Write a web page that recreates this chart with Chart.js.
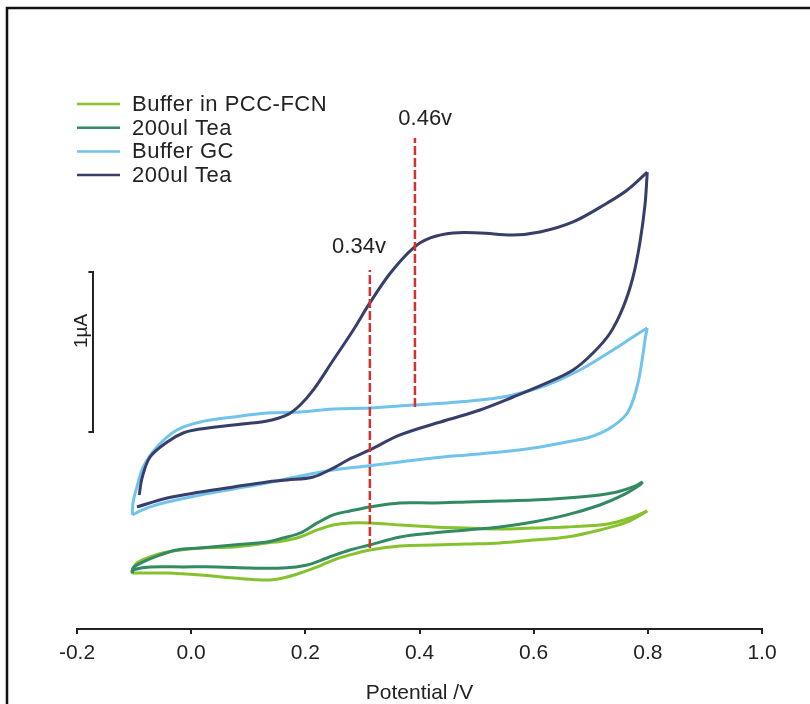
<!DOCTYPE html>
<html>
<head>
<meta charset="utf-8">
<script src="https://cdn.jsdelivr.net/npm/chart.js@4.4.0/dist/chart.umd.min.js"></script>
<style>body{margin:0;background:#fff}</style>
</head>
<body>
<canvas id="cv" width="810" height="704"></canvas>
<script>
// potential in V, current in uA (relative, no y axis shown)

// Buffer in PCC-FCN
const pccBufUpV = [-0.105,-0.095,-0.072,-0.042,0.016,0.074,0.133,0.161,0.191,0.221,0.249,0.278,0.313,0.366,0.424,0.483,0.541,0.599,0.658,0.716,0.746,0.774,0.799];
const pccBufUpI = [0.356,0.413,0.45,0.481,0.506,0.513,0.538,0.55,0.575,0.619,0.65,0.663,0.663,0.65,0.638,0.631,0.625,0.631,0.638,0.65,0.669,0.7,0.738];
const pccBufDnV = [0.799,0.764,0.716,0.658,0.599,0.541,0.483,0.424,0.366,0.313,0.278,0.249,0.221,0.191,0.161,0.133,0.074,0.016,-0.042,-0.102,-0.105];
const pccBufDnI = [0.738,0.669,0.619,0.575,0.556,0.538,0.531,0.525,0.519,0.494,0.463,0.431,0.388,0.35,0.319,0.306,0.319,0.338,0.35,0.35,0.356];

// 200ul Tea (PCC-FCN)
const pccTeaUpV = [-0.103,-0.102,-0.084,-0.054,-0.025,0.016,0.074,0.133,0.161,0.191,0.221,0.249,0.278,0.313,0.366,0.424,0.483,0.541,0.599,0.658,0.716,0.746,0.774,0.791];
const pccTeaUpI = [0.35,0.381,0.419,0.463,0.494,0.506,0.525,0.544,0.569,0.6,0.663,0.713,0.738,0.763,0.788,0.788,0.794,0.8,0.806,0.819,0.838,0.856,0.888,0.919];
const pccTeaDnV = [0.791,0.786,0.757,0.716,0.658,0.599,0.541,0.483,0.424,0.366,0.313,0.278,0.238,0.203,0.161,0.103,0.046,-0.014,-0.072,-0.102,-0.103];
const pccTeaDnI = [0.919,0.9,0.838,0.775,0.713,0.669,0.638,0.619,0.6,0.575,0.525,0.494,0.444,0.4,0.381,0.381,0.388,0.388,0.388,0.369,0.35];

// Buffer GC
const gcBufUpV = [-0.103,-0.102,-0.095,-0.084,-0.06,-0.025,0.016,0.074,0.133,0.191,0.249,0.313,0.389,0.448,0.506,0.564,0.623,0.681,0.739,0.774,0.799];
const gcBufUpI = [0.713,0.788,0.888,1.013,1.138,1.244,1.294,1.325,1.35,1.356,1.375,1.381,1.4,1.413,1.431,1.463,1.525,1.619,1.744,1.825,1.881];
const gcBufDnV = [0.799,0.795,0.79,0.781,0.764,0.734,0.699,0.658,0.599,0.541,0.483,0.424,0.366,0.308,0.249,0.191,0.133,0.074,0.016,-0.042,-0.072,-0.089,-0.103];
const gcBufDnI = [1.881,1.806,1.681,1.513,1.35,1.256,1.2,1.169,1.131,1.106,1.088,1.069,1.044,1.019,0.994,0.956,0.913,0.875,0.838,0.794,0.763,0.738,0.713];

// 200ul Tea (GC)
const gcTeaFwdV = [-0.095,-0.042,0.016,0.074,0.133,0.168,0.214,0.249,0.278,0.313,0.366,0.448,0.506,0.564,0.623,0.669,0.704,0.734,0.757,0.774,0.786,0.795,0.799];
const gcTeaFwdI = [0.763,0.819,0.856,0.888,0.919,0.931,0.95,1.006,1.063,1.119,1.213,1.306,1.369,1.45,1.538,1.619,1.725,1.85,2.013,2.2,2.413,2.65,2.856];
const gcTeaRevV = [0.799,0.764,0.729,0.669,0.611,0.564,0.506,0.459,0.419,0.389,0.349,0.313,0.284,0.249,0.214,0.191,0.168,0.133,0.074,0.016,-0.014,-0.042,-0.072,-0.086,-0.091];
const gcTeaRevI = [2.856,2.744,2.663,2.544,2.481,2.463,2.475,2.475,2.444,2.381,2.225,2.038,1.869,1.681,1.494,1.4,1.338,1.3,1.275,1.25,1.225,1.169,1.075,0.944,0.838];

// peak markers (dashed)
const markV = [0.313, 0.392];
const markTop = [2.244, 3.069];
const markBottom = [0.506, 1.388];
const markText = ['0.34v', '0.46v'];

// 1uA scale bar
const barV = [-0.18, -0.172, -0.172, -0.18];
const barI = [2.231, 2.231, 1.231, 1.231];

const xTicks = [-0.2, 0.0, 0.2, 0.4, 0.6, 0.8, 1.0];
const legendLabels = ['Buffer in PCC-FCN', '200ul Tea', 'Buffer GC', '200ul Tea'];
const legendColors = ['#86c22e', '#328a63', '#72c3ec', '#363e69'];

function pts(xs, ys) {
    return xs.map((x, i) => ({x: x, y: ys[i]}));
}

function curve(xs, ys, color, order) {
    return {
        data: pts(xs, ys),
        borderColor: color,
        borderWidth: 3,
        pointRadius: 0,
        showLine: true,
        tension: 0.35,
        order: order
    };
}

const datasets = [
    curve(pccBufUpV, pccBufUpI, legendColors[0], 5),
    curve(pccBufDnV, pccBufDnI, legendColors[0], 5),
    curve(pccTeaUpV, pccTeaUpI, legendColors[1], 4),
    curve(pccTeaDnV, pccTeaDnI, legendColors[1], 4),
    curve(gcBufUpV, gcBufUpI, legendColors[2], 3),
    curve(gcBufDnV, gcBufDnI, legendColors[2], 3),
    curve(gcTeaFwdV, gcTeaFwdI, legendColors[3], 2),
    curve(gcTeaRevV, gcTeaRevI, legendColors[3], 2),
    {
        data: pts(barV, barI),
        borderColor: '#222',
        borderWidth: 2,
        pointRadius: 0,
        showLine: true,
        tension: 0,
        order: 1
    }
];
markV.forEach((v, i) => {
    datasets.push({
        data: [{x: v, y: markBottom[i]}, {x: v, y: markTop[i]}],
        borderColor: '#d8302e',
        borderWidth: 2.5,
        borderDash: [9, 3],
        pointRadius: 0,
        showLine: true,
        order: 0
    });
});

const font = '"Liberation Sans", Arial, sans-serif';

// frame, legend and text labels
const extras = {
    id: 'extras',
    afterDraw(chart) {
        const ctx = chart.ctx;
        const xs = chart.scales.x, ys = chart.scales.y;
        ctx.save();
        // frame
        ctx.strokeStyle = '#111';
        ctx.lineWidth = 2.5;
        ctx.beginPath();
        ctx.moveTo(7, 704);
        ctx.lineTo(7, 8);
        ctx.lineTo(810, 8);
        ctx.stroke();

        // legend
        ctx.letterSpacing = '0.5px';
        ctx.font = '22px ' + font;
        ctx.textBaseline = 'middle';
        ctx.textAlign = 'left';
        legendLabels.forEach((lab, i) => {
            const y = 104 + i * 23.7;
            ctx.strokeStyle = legendColors[i];
            ctx.lineWidth = 2.5;
            ctx.beginPath();
            ctx.moveTo(77, y);
            ctx.lineTo(120, y);
            ctx.stroke();
            ctx.fillStyle = '#222';
            ctx.fillText(lab, 132, y + 1);
        });

        // peak labels
        ctx.letterSpacing = '0px';
        ctx.textAlign = 'center';
        ctx.fillText(markText[0], xs.getPixelForValue(0.294), ys.getPixelForValue(2.388));
        ctx.fillText(markText[1], xs.getPixelForValue(0.41), ys.getPixelForValue(3.188));

        // scale bar label
        ctx.font = '19px ' + font;
        ctx.translate(xs.getPixelForValue(-0.191), ys.getPixelForValue(1.863));
        ctx.rotate(-Math.PI / 2);
        ctx.fillText('1\u00b5A', 0, 0);
        ctx.restore();
    }
};

new Chart(document.getElementById('cv'), {
    type: 'scatter',
    data: {datasets: datasets},
    options: {
        responsive: false,
        animation: false,
        layout: {padding: {left: 77, right: 48, top: 21, bottom: 0}},
        plugins: {
            legend: {display: false},
            tooltip: {enabled: false}
        },
        scales: {
            x: {
                type: 'linear',
                min: -0.2,
                max: 1.0,
                afterBuildTicks: (scale) => {
                    scale.ticks = xTicks.map(v => ({value: v}));
                },
                afterFit: (scale) => {
                    scale.height = 75;
                },
                ticks: {
                    color: '#222',
                    padding: 7,
                    maxRotation: 0,
                    font: {family: font, size: 21},
                    callback: (v) => Number(v).toFixed(1)
                },
                grid: {
                    drawOnChartArea: false,
                    drawTicks: true,
                    tickLength: 5,
                    color: '#222',
                    lineWidth: 2
                },
                border: {display: true, color: '#222', width: 2},
                title: {
                    display: true,
                    text: 'Potential /V',
                    color: '#222',
                    padding: {top: 0, bottom: 0},
                    font: {family: font, size: 21, lineHeight: 1}
                }
            },
            y: {
                display: false,
                min: 0,
                max: 3.8
            }
        }
    },
    plugins: [extras]
});
</script>
</body>
</html>
